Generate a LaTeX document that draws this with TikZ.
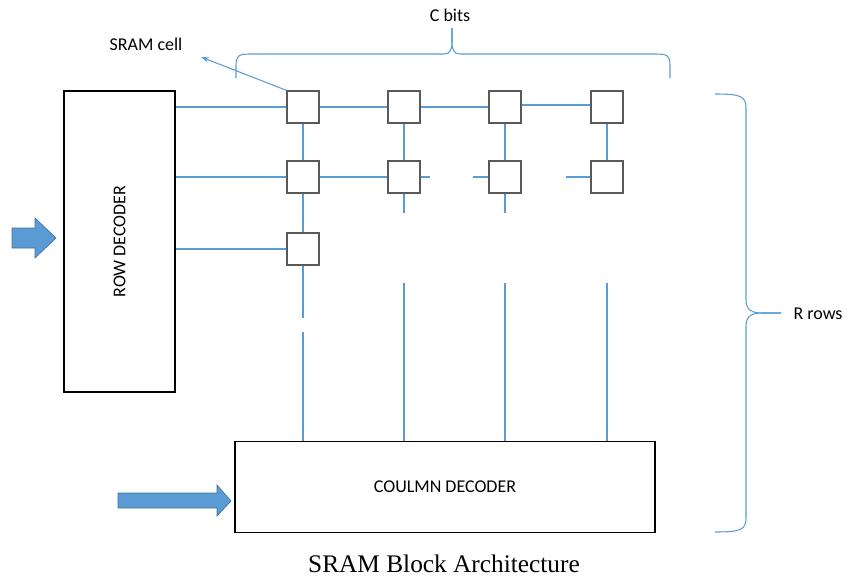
\documentclass[tikz,border=0pt]{standalone}
\usepackage{fontspec}
\setmainfont{Carlito}
\newfontfamily\capfont{Liberation Serif}
\usetikzlibrary{arrows.meta}

\definecolor{wireblue}{HTML}{5B9BD5}
\definecolor{arrowedge}{HTML}{41719C}
\definecolor{cellgray}{HTML}{595959}

\begin{document}
\begin{tikzpicture}[
        x=0.75pt, y=-0.75pt,
        font=\fontsize{13.5}{16}\selectfont,
        box/.style={draw=black, line width=0.8pt, inner sep=0pt},
        sramcell/.style={draw=cellgray, line width=1.1pt, minimum size=24pt, inner sep=0pt, fill=white},
        wire/.style={draw=wireblue, line width=0.8pt},
        blockarrow/.style={fill=wireblue, draw=arrowedge, line width=0.5pt},
        brace/.style={draw=wireblue, line width=0.8pt}
    ]
    \useasboundingbox (0,0) rectangle (848,579);

    % --- Decoders ---
    \node[box, minimum width=83.25pt, minimum height=225.75pt] (rowdec) at (119.5,241.5) {};
    \node[rotate=90] (rowtxt) at (rowdec) {ROW DECODER};
    \node[box, minimum width=315pt, minimum height=68pt] (coldec) at (445,486.7) {COULMN DECODER};

    % input arrows
    \draw[blockarrow] (12,228) -- (35,228) -- (35,218) -- (56,238) -- (35,258) -- (35,248) -- (12,248) -- cycle;
    \draw[blockarrow] (118,493) -- (217,493) -- (217,485) -- (231,501) -- (217,516) -- (217,508) -- (118,508) -- cycle;

    % --- SRAM cells ---
    \foreach \r/\y in {1/107,2/177}
        \foreach \c/\x in {1/303,2/404,3/505,4/607}
            \node[sramcell] (c\r\c) at (\x,\y) {};
    \node[sramcell] (c31) at (303,249) {};

    % word lines
    \draw[wire] (rowdec.east |- c11) -- (c11);
    \draw[wire] (c11) -- (c12);
    \draw[wire] (c12) -- (c13);
    \draw[wire] ([yshift=1.5pt]c13.east) -- ([yshift=1.5pt]c14.west);
    \draw[wire] (rowdec.east |- c21) -- (c21);
    \draw[wire] (c21) -- (c22);
    \coordinate (s22) at (430,177);
    \coordinate (s23) at (473,177);
    \coordinate (s24) at (566,177);
    \draw[wire] (c22) -- (s22);
    \draw[wire] (s23) -- (c23);
    \draw[wire] (s24) -- (c24);
    \draw[wire] (rowdec.east |- c31) -- (c31);

    % bit lines
    \foreach \c in {1,...,4}
        \draw[wire] (c1\c) -- (c2\c);
    \draw[wire] (c21) -- (c31);
    \coordinate (d1) at (303,318);
    \coordinate (u1) at (303,332);
    \draw[wire] (c31) -- (d1);
    \draw[wire] (u1) -- (u1 |- coldec.north);
    \foreach \c in {2,3}
        \draw[wire] (c2\c) -- (c2\c |- 0,213);
    \foreach \c in {2,3,4}
        \draw[wire] (c1\c |- 0,283) -- (c1\c |- coldec.north);

    % --- Labels and braces ---
    \node (celllbl) at (146,44) {SRAM cell};
    \coordinate (celltip) at (201,57);
    \draw[wire, -{Stealth[length=6pt,width=4pt]}] (c11.north west) -- (celltip);

    \node (cbits) at (450,15) {C bits};
    \draw[brace] (236,78) -- (236,66) .. controls (236,56) and (238,54) .. (250,54) -- (444,54)
        .. controls (450,54) and (452,50) .. (452,42) -- (452,28);
    \draw[brace] (452,28) -- (452,42) .. controls (452,50) and (454,54) .. (460,54) -- (656,54)
        .. controls (668,54) and (670,56) .. (670,66) -- (670,78);

    \node (rrows) at (818,314) {R rows};
    \draw[brace] (715,94) .. controls (740,94) and (746,96) .. (746,108) -- (746,300)
        .. controls (746,310) and (752,313) .. (762,313) -- (781,313);
    \draw[brace] (781,313) -- (762,313) .. controls (752,313) and (746,316) .. (746,326) -- (746,518)
        .. controls (746,530) and (740,532) .. (715,532);

    \node (caption) at (444,564) {\capfont\fontsize{19}{22}\selectfont SRAM Block Architecture};

\end{tikzpicture}
\end{document}
